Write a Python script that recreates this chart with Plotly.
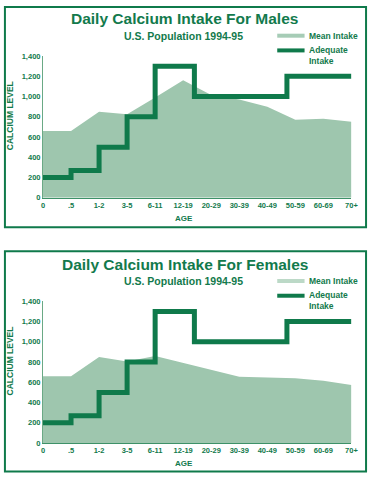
import plotly.graph_objects as go

# ---------------- data ----------------
AGE_LABELS = ["0", ".5", "1-2", "3-5", "6-11", "12-19", "20-29", "30-39",
              "40-49", "50-59", "60-69", "70+"]
AGE_INDEX = list(range(len(AGE_LABELS)))
MALE_MEAN = [660, 660, 850, 825, 990, 1160, 1015, 970, 900, 770, 780, 750]
FEMALE_MEAN = [660, 660, 850, 805, 860, 790, 725, 655, 648, 640, 615, 575]
AI_X = [0, 1, 2, 3, 4, 5.4, 8.7, 11]
AI_LEVEL = [200, 270, 500, 800, 1300, 1000, 1200, 1200]
Y_TICKS = [0, 200, 400, 600, 800, 1000, 1200, 1400]
Y_TICK_TEXT = ["0", "200", "400", "600", "800", "1,000", "1,200", "1,400"]
TITLES = ["Daily Calcium Intake For Males", "Daily Calcium Intake For Females"]
SUBTITLE = "U.S. Population 1994-95"

# ---------------- style ----------------
W, H = 375, 480
DARK = "#0f7a4b"
TEXT = "#127a4c"
FILLS = ["#9ec6ae", "#9ec6ae"]
LEG_MEAN = ["#a6ccb6", "#bcd9c7"]
AXIS = "#6aa985"
FONT = "Liberation Sans, Arial, sans-serif"
NARROW = "Liberation Sans Narrow, Arial Narrow, Liberation Sans, sans-serif"


def px(x):
    return x / W


def py(y):
    return 1 - y / H


fig = go.Figure()
layout = dict(width=W, height=H, margin=dict(l=0, r=0, t=0, b=0),
              paper_bgcolor="white", plot_bgcolor="rgba(0,0,0,0)",
              showlegend=False, shapes=[], annotations=[])

OFFSETS = [0, 250]
for i, (title, mean, off) in enumerate(zip(TITLES, [MALE_MEAN, FEMALE_MEAN], OFFSETS)):
    xa = "x" if i == 0 else "x2"
    ya = "y" if i == 0 else "y2"
    xkey = "xaxis" if i == 0 else "xaxis2"
    ykey = "yaxis" if i == 0 else "yaxis2"

    fig.add_trace(go.Scatter(x=AGE_INDEX, y=mean, mode="lines", fill="tozeroy",
                             fillcolor=FILLS[i], line=dict(width=0, color=FILLS[i]),
                             xaxis=xa, yaxis=ya, hoverinfo="skip"))
    fig.add_trace(go.Scatter(x=AI_X, y=AI_LEVEL, mode="lines", line_shape="hv",
                             line=dict(width=5, color=DARK),
                             xaxis=xa, yaxis=ya, hoverinfo="skip"))

    layout[xkey] = dict(domain=[px(42), px(358)], range=[0, 11], anchor=ya,
                        tickvals=AGE_INDEX, ticktext=AGE_LABELS,
                        tickfont=dict(family=NARROW, size=7.5, color=TEXT, weight="bold"),
                        showline=True, linecolor="#3d9168", linewidth=1,
                        showgrid=False, zeroline=False, ticks="", fixedrange=True)
    layout[ykey] = dict(domain=[py(197.5 + off), py(53 + off)], range=[0, 1400], anchor=xa,
                        tickvals=Y_TICKS, ticktext=Y_TICK_TEXT,
                        tickfont=dict(family=FONT, size=7.5, color=TEXT, weight="bold"),
                        showline=True, linecolor=AXIS, linewidth=1,
                        showgrid=False, zeroline=False, ticks="", fixedrange=True)

    # panel border
    layout["shapes"].append(dict(type="rect", xref="paper", yref="paper",
                                 x0=px(3), x1=px(373), y0=py(227.5 + off * 0.996), y1=py(3 + off * 0.996),
                                 line=dict(color=DARK, width=2)))
    # legend swatches
    layout["shapes"].append(dict(type="line", xref="paper", yref="paper",
                                 x0=px(282), x1=px(310), y0=py(32.3 + off), y1=py(32.3 + off),
                                 line=dict(color=LEG_MEAN[i], width=4)))
    layout["shapes"].append(dict(type="line", xref="paper", yref="paper",
                                 x0=px(282), x1=px(310), y0=py(47.3 + off), y1=py(47.3 + off),
                                 line=dict(color=DARK, width=4)))

    def ann(text, x, y, size, xanchor="center", family=FONT, angle=0):
        layout["annotations"].append(dict(
            text=text, x=px(x), y=py(y), xref="paper", yref="paper",
            xanchor=xanchor, yanchor="middle", showarrow=False, textangle=angle,
            align="left" if xanchor == "left" else "center",
            font=dict(family=family, size=size, color=TEXT)))

    ann("<b>" + title + "</b>", 187, 15 + off, 15.5)
    ann("<b>" + SUBTITLE + "</b>", 186, 32.3 + off, 10.5)
    ann("<b>Mean Intake</b>", 312, 32.3 + off, 8.5, xanchor="left")
    ann("<b>Adequate<br>Intake</b>", 312, 52.3 + off, 8.5, xanchor="left")
    ann("<b>AGE</b>", 186, 218.3 + off, 8, family=NARROW)
    ann("<b>CALCIUM LEVEL</b>", 8.5, 114 + off, 8.5, family=NARROW, angle=-90)

fig.update_layout(**layout)
fig.write_html("out.html", config={"displayModeBar": False},
               post_script="document.body.style.margin='0';document.body.style.padding='0';")
